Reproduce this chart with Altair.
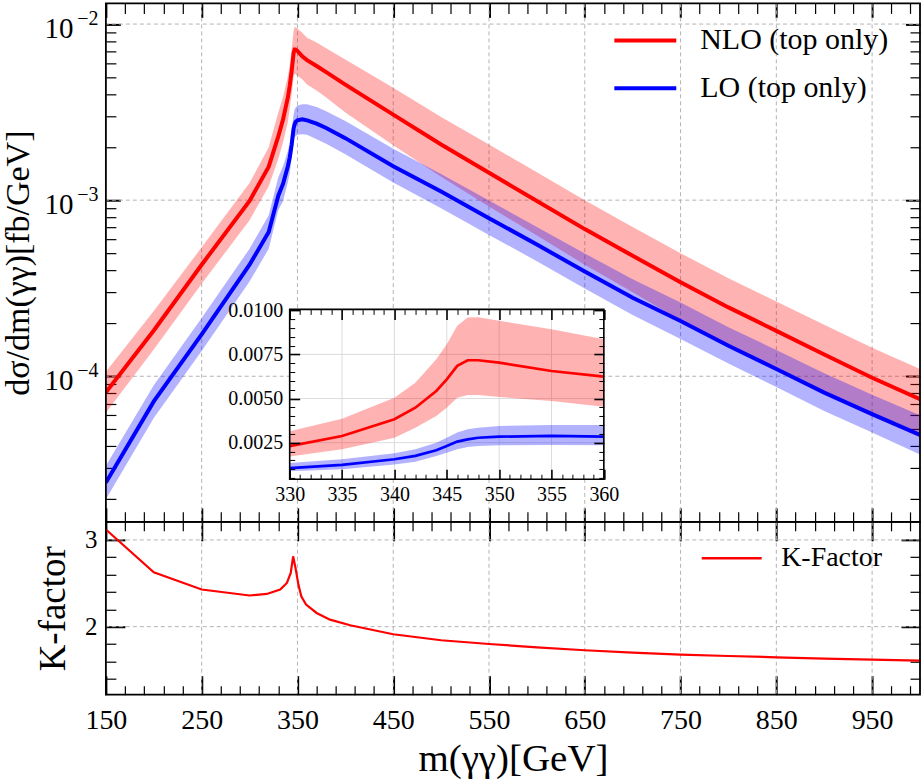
import altair as alt
import pandas as pd

# ---------------- data: d(sigma)/dm(gamma gamma) in fb/GeV ----------------
mass = [150, 200, 250, 300, 320, 330, 335, 340, 342, 344, 345, 346, 347, 348,
        350, 355, 360, 370, 380, 400, 450, 500, 550, 600, 650, 700, 750, 800,
        850, 900, 950, 1000]

nlo = [8.1e-5, 1.82e-4, 4.3e-4, 9.9e-4, 1.55e-3, 2.3e-3, 2.88e-3, 3.83e-3,
       4.48e-3, 5.43e-3, 6.09e-3, 6.85e-3, 7.17e-3, 7.17e-3, 7.03e-3, 6.56e-3,
       6.24e-3, 5.78e-3, 5.33e-3, 4.53e-3, 3.06e-3, 2.07e-3, 1.43e-3, 9.9e-4,
       6.85e-4, 4.83e-4, 3.42e-4, 2.46e-4, 1.81e-4, 1.33e-4, 9.8e-5, 7.4e-5]
nlo_up = [1.06e-4, 2.35e-4, 5.4e-4, 1.25e-3, 2.0e-3, 3.15e-3, 3.86e-3, 5.05e-3,
          5.9e-3, 7.23e-3, 8.08e-3, 9.12e-3, 9.59e-3, 9.6e-3, 9.4e-3, 8.93e-3,
          8.36e-3, 7.85e-3, 7.3e-3, 6.3e-3, 4.35e-3, 2.97e-3, 2.07e-3, 1.44e-3,
          1.0e-3, 7.05e-4, 5.0e-4, 3.6e-4, 2.66e-4, 1.96e-4, 1.45e-4, 1.10e-4]
nlo_dn = [6.2e-5, 1.42e-4, 3.35e-4, 7.7e-4, 1.2e-3, 1.72e-3, 2.13e-3, 2.78e-3,
          3.35e-3, 4.01e-3, 4.48e-3, 5.05e-3, 5.2e-3, 5.2e-3, 5.09e-3, 4.86e-3,
          4.54e-3, 4.2e-3, 3.83e-3, 3.15e-3, 2.05e-3, 1.36e-3, 9.2e-4, 6.3e-4,
          4.3e-4, 3.0e-4, 2.07e-4, 1.49e-4, 1.09e-4, 8.0e-5, 5.9e-5, 4.5e-5]

lo = [2.49e-5, 7.2e-5, 1.73e-4, 4.3e-4, 6.6e-4, 1.06e-3, 1.24e-3, 1.56e-3,
      1.75e-3, 2.07e-3, 2.31e-3, 2.56e-3, 2.69e-3, 2.78e-3, 2.84e-3, 2.88e-3,
      2.84e-3, 2.72e-3, 2.57e-3, 2.25e-3, 1.56e-3, 1.12e-3, 7.9e-4, 5.6e-4,
      3.93e-4, 2.79e-4, 2.06e-4, 1.49e-4, 1.10e-4, 8.07e-5, 6.09e-5, 4.65e-5]
lo_up = [3.1e-5, 8.9e-5, 2.14e-4, 5.3e-4, 8.2e-4, 1.35e-3, 1.56e-3, 1.90e-3,
         2.12e-3, 2.50e-3, 2.78e-3, 3.07e-3, 3.26e-3, 3.35e-3, 3.45e-3, 3.50e-3,
         3.50e-3, 3.38e-3, 3.2e-3, 2.82e-3, 1.96e-3, 1.41e-3, 9.95e-4, 7.05e-4,
         4.98e-4, 3.55e-4, 2.62e-4, 1.90e-4, 1.41e-4, 1.04e-4, 7.85e-5, 6.0e-5]
lo_dn = [2.0e-5, 5.8e-5, 1.39e-4, 3.45e-4, 5.3e-4, 8.8e-4, 9.9e-4, 1.27e-3,
         1.42e-3, 1.75e-3, 1.93e-3, 2.12e-3, 2.26e-3, 2.31e-3, 2.35e-3, 2.37e-3,
         2.35e-3, 2.22e-3, 2.09e-3, 1.82e-3, 1.26e-3, 9.0e-4, 6.35e-4, 4.5e-4,
         3.15e-4, 2.23e-4, 1.63e-4, 1.18e-4, 8.7e-5, 6.35e-5, 4.8e-5, 3.6e-5]

# K-factor = NLO / LO
k_mass = [150, 200, 250, 300, 318, 332, 339, 343, 345.5, 348, 351, 354, 359,
          370, 384, 405, 450, 500, 550, 600, 650, 700, 750, 800, 850, 900, 950,
          1000]
k_factor = [3.12, 2.627, 2.428, 2.359, 2.377, 2.427, 2.504, 2.619, 2.811,
            2.676, 2.485, 2.35, 2.254, 2.158, 2.081, 2.016, 1.912, 1.843, 1.80,
            1.762, 1.728, 1.70, 1.678, 1.662, 1.647, 1.632, 1.62, 1.609]

series_names = ["NLO (top only)", "LO (top only)"]
k_name = "K-Factor"

# ---------------- ticks ----------------
x_major = [150, 250, 350, 450, 550, 650, 750, 850, 950]
x_ticks = list(range(150, 1000, 20))
y_major = [1e-4, 1e-3, 1e-2]
y_major_base = ["10", "10", "10"]
y_major_exp = ["−4", "−3", "−2"]
y_ticks = [m * 10.0 ** e for e in (-5, -4, -3) for m in range(2, 10)] + y_major
k_major = [2, 3]
k_ticks = [1.4, 1.6, 1.8, 2.0, 2.2, 2.4, 2.6, 2.8, 3.0]
inset_x_major = [330, 335, 340, 345, 350, 355, 360]
inset_x_ticks = list(range(330, 361))
inset_y_major = [0.0025, 0.005, 0.0075, 0.01]
inset_y_ticks = [round(0.0005 * i, 4) for i in range(1, 21)]

# ---------------- layout ----------------
FONT = "Liberation Serif"
W, H_MAIN, H_K = 815, 519, 173
X_DOMAIN = [150, 1000]
Y_DOMAIN = [1.49e-5, 0.0131]
K_DOMAIN = [1.216, 3.208]
INSET_X = [330, 360]
INSET_Y = [0.00043, 0.01005]
IN_L, IN_R, IN_T, IN_B = 184, 498.5, 306.3, 476.3   # inset box inside main plot (px)

RED, BLUE = "#ff0000", "#0000ff"
GRID = "#b4b4b4"

X_MAJOR_TEST = "(datum.value - 150) % 100 == 0"
Y_MAJOR_TEST = "abs(log(datum.value) / LN10 - round(log(datum.value) / LN10)) < 1e-6"
K_MAJOR_TEST = "abs(datum.value - round(datum.value)) < 1e-6"
IX_MAJOR_TEST = "datum.value % 5 == 0"
IY_MAJOR_TEST = "abs(datum.value / 0.0025 - round(datum.value / 0.0025)) < 1e-6"


def tick_axis(orient, offset, values, test, big, small, z=0, wbig=2.0, wsmall=1.2):
    """Tick-only axis; placed on the opposite edge so ticks point inward."""
    return alt.Axis(
        orient=orient, offset=offset, values=values, title=None,
        labels=False, domain=False, grid=False, zindex=z, tickColor="black",
        tickSize={"condition": {"test": test, "value": big}, "value": small},
        tickWidth={"condition": {"test": test, "value": wbig}, "value": wsmall},
    )


def decade_expr(texts):
    return "[" + ",".join("'%s'" % t for t in texts) + "][round(log(datum.value)/LN10) + 4]"


df = pd.DataFrame({"mass": mass, "nlo": nlo, "nlo_up": nlo_up, "nlo_dn": nlo_dn,
                   "lo": lo, "lo_up": lo_up, "lo_dn": lo_dn})
lines_df = pd.concat([
    pd.DataFrame({"mass": mass, "value": nlo, "series": series_names[0]}),
    pd.DataFrame({"mass": mass, "value": lo, "series": series_names[1]}),
])
inset_df = df[(df["mass"] >= INSET_X[0]) & (df["mass"] <= INSET_X[1])]
k_df = pd.DataFrame({"mass": k_mass, "k": k_factor, "series": k_name})

xs = alt.Scale(domain=X_DOMAIN, nice=False, zero=False)
ys = alt.Scale(type="log", domain=Y_DOMAIN, nice=False)
ks = alt.Scale(domain=K_DOMAIN, nice=False, zero=False)
ixs = alt.Scale(domain=INSET_X, range=[IN_L, IN_R], nice=False, zero=False)
iys = alt.Scale(domain=INSET_Y, range=[IN_B, IN_T], nice=False, zero=False)

# ---------------- main panel ----------------
main_vgrid = alt.Chart(pd.DataFrame({"v": x_major[1:]})).mark_rule(
    color=GRID, strokeDash=[4, 3], strokeWidth=1
).encode(x=alt.X("v:Q", scale=xs,
                 axis=tick_axis("top", -H_MAIN, x_ticks, X_MAJOR_TEST, 14, 10)))

# mantissa "10" of the decade labels, plus the axis title
main_hgrid = alt.Chart(pd.DataFrame({"v": y_major})).mark_rule(
    color=GRID, strokeDash=[4, 3], strokeWidth=1
).encode(y=alt.Y("v:Q", scale=ys, axis=alt.Axis(
    orient="left", values=y_major, labelExpr=decade_expr(y_major_base),
    ticks=False, domain=False, grid=False, labelFontSize=29, labelPadding=33,
    labelOffset=4, title="dσ/dm(γγ)[fb/GeV]", titleFontSize=34, titleX=-87,
    titleY=H_MAIN / 2, titleAngle=270, titleAlign="center",
    titleBaseline="middle")))

nlo_band = alt.Chart(df).mark_area(color=RED, opacity=0.3, clip=True).encode(
    x=alt.X("mass:Q", scale=xs,
            axis=tick_axis("bottom", -H_MAIN, x_ticks, X_MAJOR_TEST, 14, 10)),
    y=alt.Y("nlo_dn:Q", scale=ys,
            axis=tick_axis("right", -W, y_ticks, Y_MAJOR_TEST, 14.5, 10)),
    y2="nlo_up:Q",
)

lo_band = alt.Chart(df).mark_area(color=BLUE, opacity=0.3, clip=True).encode(
    x=alt.X("mass:Q", scale=xs, axis=None),
    y=alt.Y("lo_dn:Q", scale=ys,
            axis=tick_axis("left", -W, y_ticks, Y_MAJOR_TEST, 14.5, 10)),
    y2="lo_up:Q",
)

main_lines = alt.Chart(lines_df).mark_line(strokeWidth=4, clip=True).encode(
    x=alt.X("mass:Q", scale=xs, axis=None),
    y=alt.Y("value:Q", scale=ys, axis=None),
    color=alt.Color("series:N", scale=alt.Scale(domain=series_names, range=[RED, BLUE]),
                    legend=alt.Legend(orient="none", legendX=507, legendY=4,
                                      title=None, symbolType="stroke",
                                      symbolSize=3844, symbolStrokeWidth=4,
                                      labelFontSize=30, labelOffset=22,
                                      labelLimit=600, rowPadding=-8, padding=0)),
    detail="series:N",
)

# frame, carrying the exponent part of the decade labels
main_frame = alt.Chart(pd.DataFrame({"x0": [X_DOMAIN[0]], "x1": [X_DOMAIN[1]],
                                     "y0": [Y_DOMAIN[0]], "y1": [Y_DOMAIN[1]]})).mark_rect(
    fill=None, stroke="black", strokeWidth=1.8
).encode(x=alt.X("x0:Q", scale=xs, axis=None), x2="x1:Q",
         y=alt.Y("y0:Q", scale=ys, axis=alt.Axis(
             orient="left", values=y_major, labelExpr=decade_expr(y_major_exp),
             ticks=False, domain=False, grid=False, labelFontSize=20,
             labelPadding=8, labelOffset=-6, title=None)),
         y2="y1:Q")

main_group = alt.layer(main_vgrid, main_hgrid, nlo_band, lo_band, main_lines,
                       main_frame).resolve_axis(x="independent", y="independent")

# ---------------- inset: threshold region ----------------
box = pd.DataFrame({"x0": [INSET_X[0]], "x1": [INSET_X[1]],
                    "y0": [INSET_Y[0]], "y1": [INSET_Y[1]]})

inset_bg = alt.Chart(box).mark_rect(fill="white", stroke=None).encode(
    x=alt.X("x0:Q", scale=ixs, axis=alt.Axis(
        orient="bottom", offset=IN_B - H_MAIN, values=inset_x_major, ticks=False,
        domain=False, grid=False, labelFontSize=20, labelPadding=5,
        labelFlush=False, labelOverlap=False, title=None, zindex=1)),
    x2="x1:Q",
    y=alt.Y("y0:Q", scale=iys, axis=alt.Axis(
        orient="left", offset=-IN_L, values=inset_y_major, format=".4f",
        ticks=False, domain=False, grid=False, labelFontSize=20,
        labelPadding=7, labelFlush=False, labelOverlap=False, title=None,
        zindex=1)),
    y2="y1:Q",
)

inset_vgrid = alt.Chart(pd.DataFrame({"v": inset_x_major[1:-1], "lo": INSET_Y[0],
                                      "hi": INSET_Y[1]})).mark_rule(
    color="#dcdcdc", strokeWidth=1
).encode(
    x=alt.X("v:Q", scale=ixs,
            axis=tick_axis("top", -IN_B, inset_x_ticks, IX_MAJOR_TEST, 10, 5, z=1, wbig=1.6, wsmall=1)),
    y=alt.Y("lo:Q", scale=iys,
            axis=tick_axis("right", IN_L - W, inset_y_ticks, IY_MAJOR_TEST, 10, 5, z=1, wbig=1.6, wsmall=1)),
    y2="hi:Q",
)

inset_hgrid = alt.Chart(pd.DataFrame({"v": inset_y_major[:-1], "lo": INSET_X[0],
                                      "hi": INSET_X[1]})).mark_rule(
    color="#dcdcdc", strokeWidth=1
).encode(
    y=alt.Y("v:Q", scale=iys,
            axis=tick_axis("left", -IN_R, inset_y_ticks, IY_MAJOR_TEST, 10, 5, z=1, wbig=1.6, wsmall=1)),
    x=alt.X("lo:Q", scale=ixs,
            axis=tick_axis("bottom", IN_T - H_MAIN, inset_x_ticks, IX_MAJOR_TEST, 10, 5, z=1, wbig=1.6, wsmall=1)),
    x2="hi:Q",
)

inset_nlo_band = alt.Chart(inset_df).mark_area(color=RED, opacity=0.3).encode(
    x=alt.X("mass:Q", scale=ixs, axis=None),
    y=alt.Y("nlo_dn:Q", scale=iys, axis=None), y2="nlo_up:Q")
inset_lo_band = alt.Chart(inset_df).mark_area(color=BLUE, opacity=0.3).encode(
    x=alt.X("mass:Q", scale=ixs, axis=None),
    y=alt.Y("lo_dn:Q", scale=iys, axis=None), y2="lo_up:Q")
inset_nlo = alt.Chart(inset_df).mark_line(color=RED, strokeWidth=2.7).encode(
    x=alt.X("mass:Q", scale=ixs, axis=None), y=alt.Y("nlo:Q", scale=iys, axis=None))
inset_lo = alt.Chart(inset_df).mark_line(color=BLUE, strokeWidth=2.7).encode(
    x=alt.X("mass:Q", scale=ixs, axis=None), y=alt.Y("lo:Q", scale=iys, axis=None))

inset_frame = alt.Chart(box).mark_rect(fill=None, stroke="black", strokeWidth=1.6).encode(
    x=alt.X("x0:Q", scale=ixs, axis=None), x2="x1:Q",
    y=alt.Y("y0:Q", scale=iys, axis=None), y2="y1:Q")

inset_group = alt.layer(inset_bg, inset_vgrid, inset_hgrid, inset_nlo_band,
                        inset_lo_band, inset_nlo, inset_lo,
                        inset_frame).resolve_axis(x="independent", y="independent")

top = alt.layer(main_group, inset_group).resolve_scale(
    x="independent", y="independent").resolve_axis(
    x="independent", y="independent").properties(width=W, height=H_MAIN)

# ---------------- K-factor panel ----------------
k_vgrid = alt.Chart(pd.DataFrame({"v": x_major[1:]})).mark_rule(
    color=GRID, strokeDash=[4, 3], strokeWidth=1
).encode(x=alt.X("v:Q", scale=xs, axis=alt.Axis(
    orient="bottom", values=x_major, ticks=False, domain=False, grid=False,
    labelFontSize=28, labelPadding=12, labelFlush=False, labelOverlap=False,
    title="m(γγ)[GeV]", titleFontSize=39, titleY=64, titleBaseline="middle")))

k_hgrid = alt.Chart(pd.DataFrame({"v": k_major})).mark_rule(
    color=GRID, strokeDash=[4, 3], strokeWidth=1
).encode(y=alt.Y("v:Q", scale=ks, axis=alt.Axis(
    orient="left", values=k_major, ticks=False, domain=False, grid=False,
    labelFontSize=25, labelPadding=9, title="K-factor", titleFontSize=37,
    titleX=-52, titleY=H_K / 2, titleAngle=270, titleAlign="center",
    titleBaseline="middle")))

k_line = alt.Chart(k_df).mark_line(strokeWidth=2.2, clip=True).encode(
    x=alt.X("mass:Q", scale=xs,
            axis=tick_axis("top", -H_K, x_ticks, X_MAJOR_TEST, 19, 9)),
    y=alt.Y("k:Q", scale=ks,
            axis=tick_axis("right", -W, k_ticks, K_MAJOR_TEST, 19, 10)),
    color=alt.Color("series:N", scale=alt.Scale(domain=[k_name], range=[RED]),
                    legend=alt.Legend(orient="none", legendX=595, legendY=5,
                                      title=None, symbolType="stroke",
                                      symbolSize=3600, symbolStrokeWidth=2.5,
                                      labelFontSize=28, labelOffset=18,
                                      labelLimit=600, padding=0)),
)

k_frame = alt.Chart(pd.DataFrame({"x0": [X_DOMAIN[0]], "x1": [X_DOMAIN[1]],
                                  "y0": [K_DOMAIN[0]], "y1": [K_DOMAIN[1]]})).mark_rect(
    fill=None, stroke="black", strokeWidth=1.8
).encode(
    x=alt.X("x0:Q", scale=xs, axis=tick_axis("bottom", -H_K, x_ticks, X_MAJOR_TEST, 19, 9)),
    x2="x1:Q",
    y=alt.Y("y0:Q", scale=ks, axis=tick_axis("left", -W, k_ticks, K_MAJOR_TEST, 19, 10)),
    y2="y1:Q",
)

bottom = alt.layer(k_vgrid, k_hgrid, k_line, k_frame).resolve_axis(
    x="independent", y="independent").properties(width=W, height=H_K)

chart = alt.vconcat(top, bottom, spacing=0, bounds="flush").resolve_scale(
    x="independent", y="independent", color="independent"
).resolve_legend(color="independent").configure(
    font=FONT, background="white",
    padding={"left": 2, "top": 2, "right": 2, "bottom": 2},
).configure_view(stroke=None).configure_axis(
    labelFont=FONT, titleFont=FONT, labelColor="black", titleColor="black",
    titleFontWeight="normal",
).configure_legend(labelFont=FONT, labelColor="black")

chart.save("out.html", embed_options={"renderer": "svg", "actions": False})
